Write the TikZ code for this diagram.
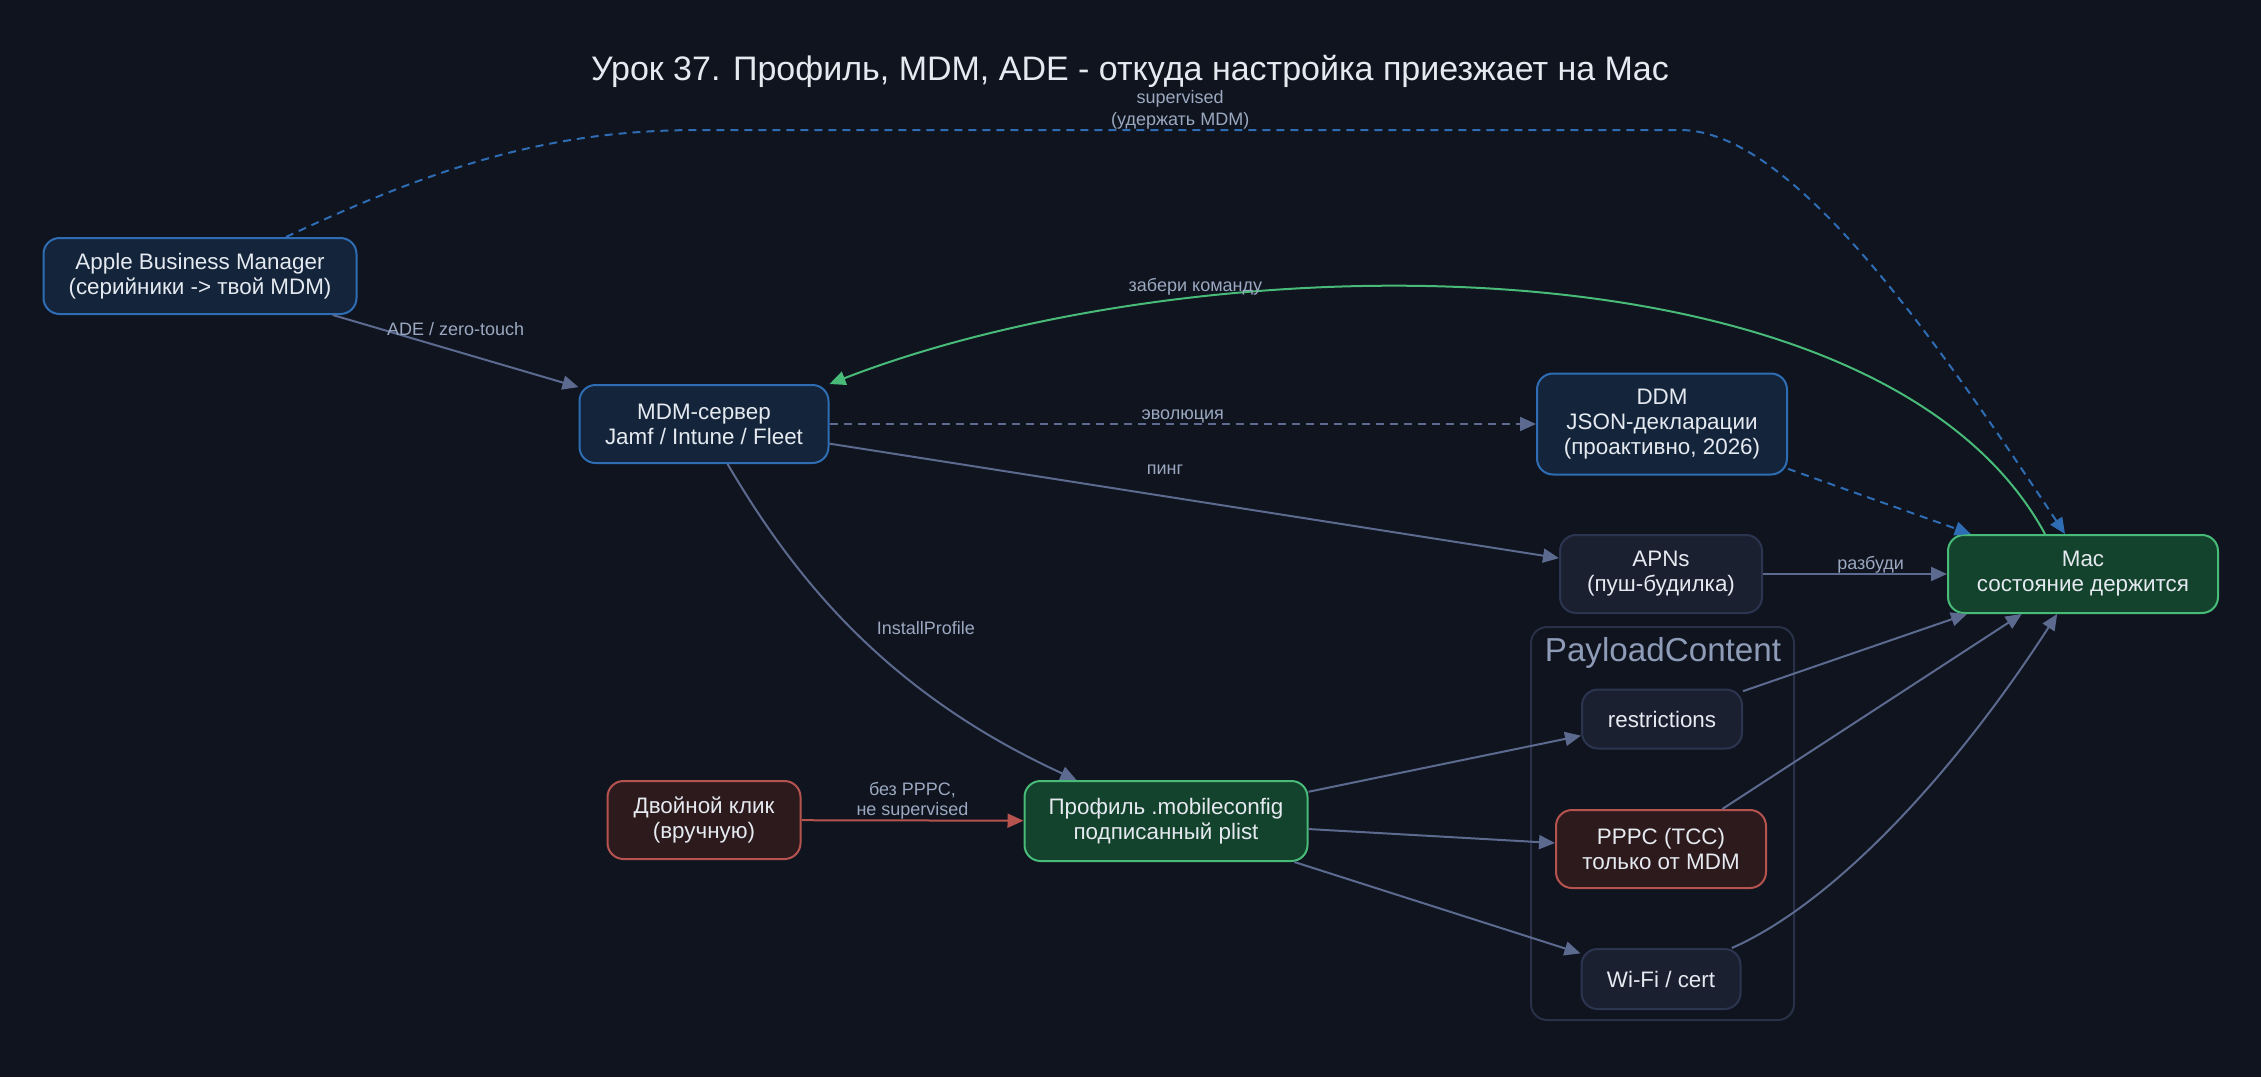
\documentclass[tikz,border=0pt]{standalone}
\usepackage{fontspec}
\setmainfont{Liberation Sans}
\usepackage{xcolor}
\usetikzlibrary{arrows.meta,positioning,calc}
\definecolor{bgcol}{HTML}{10141F}
\definecolor{nodetext}{HTML}{E5E9F0}
\definecolor{lbltext}{HTML}{9AA8C0}
\definecolor{bluefill}{HTML}{14253B}
\definecolor{bluedraw}{HTML}{2E6DB4}
\definecolor{greenfill}{HTML}{14432D}
\definecolor{greendraw}{HTML}{48BB78}
\definecolor{redfill}{HTML}{2C1A1C}
\definecolor{reddraw}{HTML}{B5534F}
\definecolor{grayfill}{HTML}{1B2030}
\definecolor{graydraw}{HTML}{2C3550}
\definecolor{clusterdraw}{HTML}{283148}
\definecolor{edgegray}{HTML}{5B6A8E}
\definecolor{clustertext}{HTML}{8E9CB8}

\begin{document}
\begin{tikzpicture}[
    x=0.5pt, y=-0.5pt,
    box/.style={draw, rounded corners=8pt, line width=1pt, align=center, inner sep=0pt, text=nodetext, font=\fontsize{11.2}{12.4}\selectfont, minimum height=39pt},
    bluebox/.style={box, draw=bluedraw, fill=bluefill},
    greenbox/.style={box, draw=greendraw, fill=greenfill},
    redbox/.style={box, draw=reddraw, fill=redfill},
    graybox/.style={box, draw=graydraw, fill=grayfill},
    cluster/.style={draw=clusterdraw, rounded corners=8pt, line width=1pt},
    arr/.style={-{Triangle[length=8pt, width=7pt]}, line width=1pt, draw=edgegray},
    lbl/.style={font=\fontsize{9}{10}\selectfont, text=lbltext, align=center, inner sep=1pt},
    dashline/.style={dash pattern=on 4pt off 3pt},
]
    % Background
    \fill[bgcol] (0,0) rectangle (2261,1077);
    \useasboundingbox (0,0) rectangle (2261,1077);

    % Title
    \node[text=nodetext, font=\fontsize{17}{19}\selectfont] (title) at (1130,71) {Урок 37. Профиль, MDM, ADE - откуда настройка приезжает на Mac};

    % Cluster
    \node[cluster, minimum width=131.5pt, minimum height=196.5pt] (payload) at (1662.5,823.5) {};
    \node[text=clustertext, font=\fontsize{16.6}{18}\selectfont] (payloadlbl) at (1663,653) {PayloadContent};

    % Sources
    \node[bluebox, minimum width=156.5pt, minimum height=38pt] (abm) at (200,276) {Apple Business Manager\\(серийники -> твой MDM)};
    \node[bluebox, minimum width=124.5pt] (mdm) at (704,424) {MDM-сервер\\Jamf / Intune / Fleet};
    \node[bluebox, minimum width=125pt, minimum height=50.5pt] (ddm) at (1662,424) {DDM\\JSON-декларации\\(проактивно, 2026)};
    \node[graybox, minimum width=101pt] (apns) at (1661,574) {APNs\\(пуш-будилка)};
    \node[redbox, minimum width=96.5pt] (dbl) at (704,820) {Двойной клик\\(вручную)};
    \node[greenbox, minimum width=141.5pt, minimum height=40pt] (prof) at (1166,821) {Профиль .mobileconfig\\подписанный plist};

    % Payloads
    \node[graybox, minimum width=80pt, minimum height=29.5pt] (restr) at (1662,719) {restrictions};
    \node[redbox, minimum width=105pt] (pppc) at (1661,849) {PPPC (TCC)\\только от MDM};
    \node[graybox, minimum width=79.5pt, minimum height=30pt] (wifi) at (1661,979) {Wi-Fi / cert};

    % Target
    \node[greenbox, minimum width=135pt] (mac) at (2083,574) {Mac\\состояние держится};

    % Arrows
    \draw[arr] (abm) -- node[lbl, pos=0.5, above=6pt] {ADE / zero-touch} (mdm);
    \draw[arr, draw=bluedraw, dashline] ($(abm.north)+(86,0)$) .. controls (450,160) and (560,130) .. (700,130)
        -- node[lbl, pos=0.49, above, inner sep=0pt, font=\fontsize{9}{11}\selectfont] {supervised\\(удержать MDM)} (1680,130)
        .. controls (1790,130) and (1930,330) .. ($(mac.north)+(-18,0)$);
    \draw[arr, draw=greendraw] ($(mac.north)+(-38,0)$) .. controls (1880,230) and (1200,240) .. node[lbl, pos=0.72, above] {забери команду} (mdm.north east);
    \draw[arr, dashline] (mdm) -- node[lbl, pos=0.5, above, inner sep=0pt] {эволюция} (ddm);
    \draw[arr] (mdm) -- node[lbl, pos=0.46, above=9.5pt] {пинг} (apns);
    \draw[arr] (mdm) .. controls (790,570) and (880,690) .. node[lbl, pos=0.5, right=11pt] {InstallProfile} (prof);
    \draw[arr, draw=bluedraw, dashline] (ddm) -- (mac);
    \draw[arr] (apns) -- node[lbl, pos=0.585, above, inner sep=0pt] {разбуди} (mac);
    \draw[arr, draw=reddraw] (dbl) -- node[lbl, pos=0.5, above, inner sep=0pt] {без PPPC,\\не supervised} (prof);
    \draw[arr] (prof) -- (restr);
    \draw[arr] (prof) -- (pppc);
    \draw[arr] (prof) -- (wifi);
    \draw[arr] (restr) -- (mac);
    \draw[arr] (pppc) -- (mac);
    \draw[arr] (wifi) .. controls (1830,905) and (1950,780) .. (mac);
\end{tikzpicture}
\end{document}
